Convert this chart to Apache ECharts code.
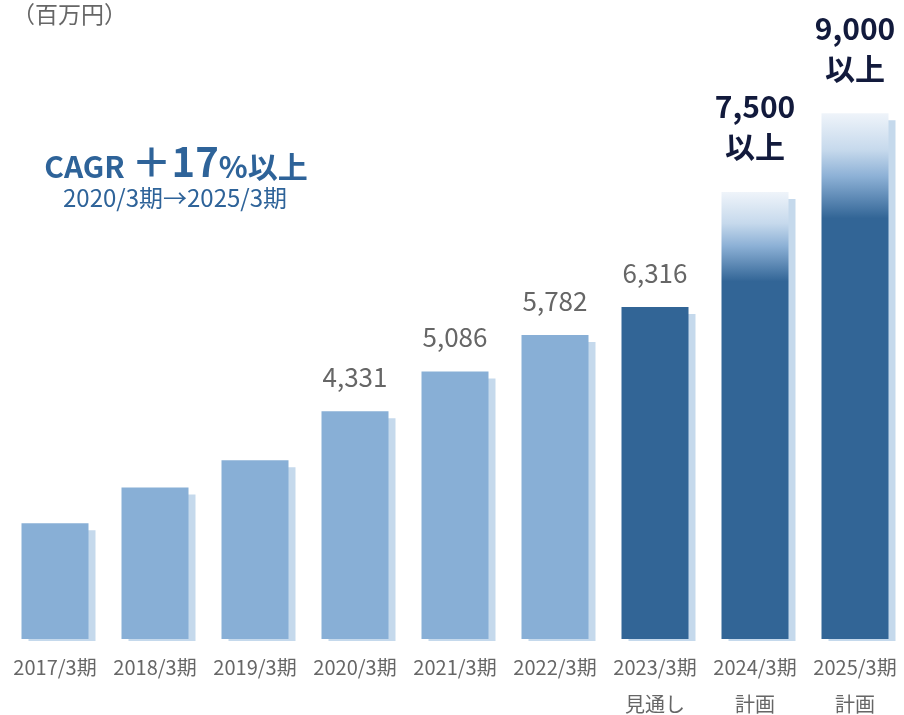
<!DOCTYPE html>
<html>
<head>
<meta charset="utf-8">
<script src="https://cdn.jsdelivr.net/npm/echarts@6/dist/echarts.min.js"></script>
<style>
  html, body { margin: 0; padding: 0; background: #fff; }
  #chart { width: 904px; height: 715px; }
</style>
</head>
<body>
<div id="chart"></div>
<script>
// 売上高（百万円）
const categories  = ['2017/3期', '2018/3期', '2019/3期', '2020/3期', '2021/3期', '2022/3期', '2023/3期\n見通し', '2024/3期\n計画', '2025/3期\n計画'];
const values      = [2200, 2880, 3400, 4331, 5086, 5782, 6316, 8500, 10000];
const valueLabels = [null, null, null, '4,331', '5,086', '5,782', '6,316', '7,500\n以上', '9,000\n以上'];
const kinds       = ['actual', 'actual', 'actual', 'actual', 'actual', 'actual', 'forecast', 'plan', 'plan'];

const FONT = '"Noto Sans CJK JP", "Noto Sans", sans-serif';
const C = { light: '#88afd6', dark: '#326596', shadow: '#c5d9ec', text: '#666666', navy: '#121a3c', cagr: '#2e6399' };
const Y_MAX = 12000;
const GRID = { left: 5, width: 900, top: 8, height: 631 };
const SHIFT = { x: 7, y: 7, bottom: 2 };          // 影の位置ずれ
const pxPerUnit = GRID.height / Y_MAX;

function planGradient() {
  return new echarts.graphic.LinearGradient(0, 0, 0, 1, [
    { offset: 0,    color: '#eff4fa' },
    { offset: 0.07, color: '#c6d9ec' },
    { offset: 0.12, color: '#8db1d6' },
    { offset: 0.2,  color: C.dark },
    { offset: 1,    color: C.dark },
  ]);
}

function mainData() {
  return values.map((v, i) => {
    const k = kinds[i];
    const item = { value: v, itemStyle: { color: k === 'actual' ? C.light : k === 'forecast' ? C.dark : planGradient() } };
    if (valueLabels[i]) {
      const bold = k === 'plan';
      item.label = {
        show: true, position: 'top',
        formatter: valueLabels[i],
        distance: bold ? 25 : 21,
        color: bold ? C.navy : C.text,
        fontFamily: FONT,
        fontSize: bold ? 30 : 26,
        fontWeight: bold ? 'bold' : 'normal',
        lineHeight: bold ? 40 : 26,
      };
    }
    return item;
  });
}

const chart = echarts.init(document.getElementById('chart'), null, { renderer: 'canvas' });

chart.setOption({
  backgroundColor: '#fff',
  animation: false,
  grid: [
    { left: GRID.left, width: GRID.width, top: GRID.top, height: GRID.height, outerBoundsMode: 'none', containLabel: false },
    { left: GRID.left + SHIFT.x, width: GRID.width, top: GRID.top + SHIFT.y, height: GRID.height - SHIFT.y + SHIFT.bottom, outerBoundsMode: 'none', containLabel: false },
  ],
  xAxis: [
    {
      gridIndex: 0, type: 'category', data: categories,
      axisLine: { show: false }, axisTick: { show: false },
      axisLabel: { color: C.text, fontFamily: FONT, fontSize: 20, lineHeight: 37, margin: 10, interval: 0 },
    },
    { gridIndex: 1, type: 'category', data: categories, show: false },
  ],
  yAxis: [
    { gridIndex: 0, type: 'value', min: 0, max: Y_MAX, show: false },
    // 影用の軸：同じ縮尺で下端だけずらす
    { gridIndex: 1, type: 'value', min: (SHIFT.y - SHIFT.bottom) / pxPerUnit, max: Y_MAX, show: false },
  ],
  series: [
    {
      type: 'bar', xAxisIndex: 1, yAxisIndex: 1, data: values,
      barWidth: 67, clip: true, silent: true,
      itemStyle: { color: C.shadow },
      z: 1,
    },
    {
      type: 'bar', xAxisIndex: 0, yAxisIndex: 0, data: mainData(),
      barWidth: 67, z: 2,
    },
  ],
  graphic: [
    {
      type: 'text', left: 12, top: 3,
      style: { text: '（百万円）', fill: C.text, font: `23px ${FONT}` },
    },
    {
      type: 'text', x: 176, y: 160,
      style: {
        text: '{a|CAGR }{b|＋17}{a|%以上}',
        align: 'center', verticalAlign: 'middle',
        rich: {
          a: { fill: C.cagr, fontFamily: FONT, fontSize: 30, fontWeight: 'bold', verticalAlign: 'bottom', lineHeight: 44 },
          b: { fill: C.cagr, fontFamily: FONT, fontSize: 40, fontWeight: 'bold', verticalAlign: 'bottom', lineHeight: 44 },
        },
      },
    },
    {
      type: 'text', x: 175, y: 198,
      style: { text: '2020/3期→2025/3期', fill: C.cagr, font: `24px ${FONT}`, align: 'center', verticalAlign: 'middle' },
    },
  ],
});
</script>
</body>
</html>
